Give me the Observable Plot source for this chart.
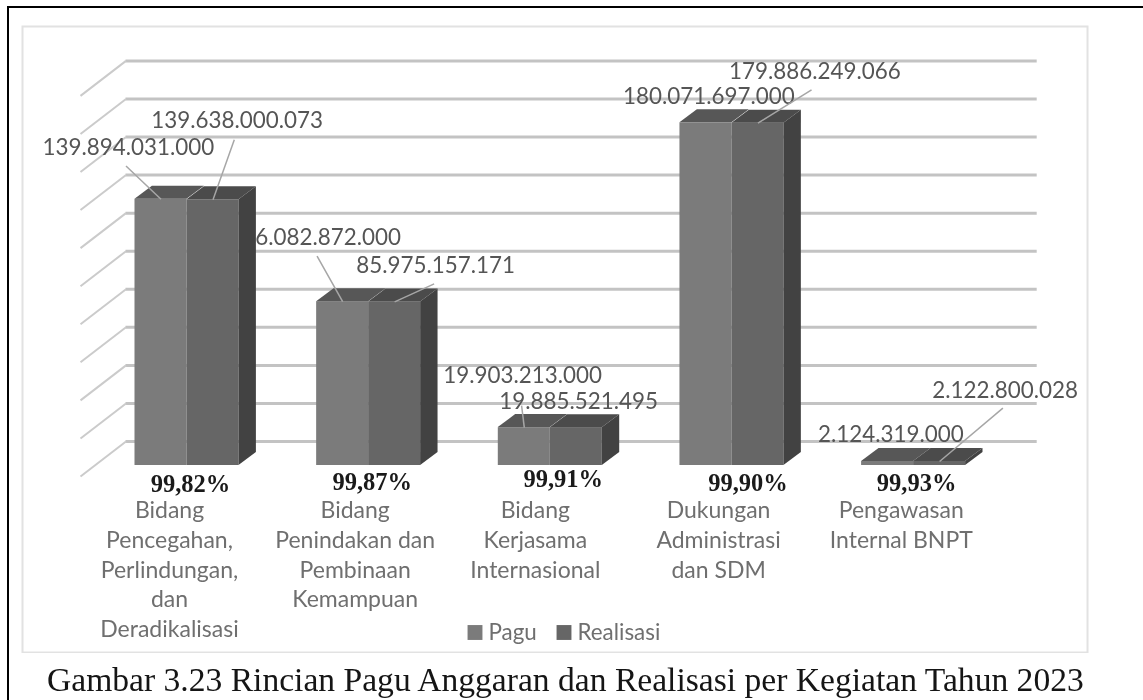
<!DOCTYPE html>
<html>
<head>
<meta charset="utf-8">
<script src="https://cdn.jsdelivr.net/npm/d3@7"></script>
<script src="https://cdn.jsdelivr.net/npm/@observablehq/plot@0.6"></script>
<style>
  html, body { margin: 0; padding: 0; background: #fff; }
  #page { position: relative; width: 1143px; height: 700px; overflow: hidden; box-sizing: border-box;
          border-top: 2px solid #000; border-left: 2px solid #000; margin: 6px 0 0 7px; }
  #wrap { position: absolute; left: -9px; top: -8px; }
  #wrap svg { display: block; filter: blur(0.45px); }
  #caption { font-family: "Liberation Serif", serif; font-size: 33.6px; line-height: 38px; color: #151515; white-space: nowrap;
             position: absolute; left: 38px; top: 653px; filter: blur(0.3px); }
</style>
</head>
<body>
<div id="page"><div id="wrap"></div><div id="caption">Gambar 3.23 Rincian Pagu Anggaran dan Realisasi per Kegiatan Tahun 2023</div></div>
<script>
// ---- data ----
const categories = [
  "Bidang\nPencegahan,\nPerlindungan,\ndan\nDeradikalisasi",
  "Bidang\nPenindakan dan\nPembinaan\nKemampuan",
  "Bidang\nKerjasama\nInternasional",
  "Dukungan\nAdministrasi\ndan SDM",
  "Pengawasan\nInternal BNPT"
];
const pagu      = [139894031000, 86082872000, 19903213000, 180071697000, 2124319000];
const realisasi = [139638000073, 85975157171, 19885521495, 179886249066, 2122800028];
const pct = ["99,82%", "99,87%", "99,91%", "99,90%", "99,93%"];
const gridTicks = [0, 2e10, 4e10, 6e10, 8e10, 1e11, 1.2e11, 1.4e11, 1.6e11, 1.8e11, 2e11];

// ---- layout (pixel nudges from each anchor, scale factors, colours) ----
const PX_SLOT = 181.65, PX_VAL = 1.903e-9;
const pxX = p => p / PX_SLOT;
const pxY = p => -p / PX_VAL;
const halfW = pxX(52), depthX = pxX(17.4), depthY = pxY(-13);
const wallBackY = pxY(-24), wallFrontY = pxY(11);
const wallLeftBack = pxX(-61), wallLeftFront = pxX(-106.5), wallRight = pxX(850.2);
const paguLabelNudge = [[-32.7,-51],[-21,-64],[-1.7,-52],[2.9,-26.3],[3.3,-27]];
const realLabelNudge = [[24.2,-79.3],[41,-35.7],[2.3,-25.5],[56.9,-51],[65.5,-71]];
const paguLeader = [[-35,-33.3],[-25.6,-45.6],[-2.7,-22],null,null];
const realLeader = [[21.3,-60],[39.5,-18],null,[53.6,-33.4],[63.3,-53.3]];
const catNudge = [-17.5,-13.5,-15,-13.4,-12.3];
const pctNudge = [[3.5,19],[3.6,17],[13,14],[16,17.5],[3,17.5]];
const C = {pagu:"#7b7b7b", real:"#666666", side:"#424242", topP:"#575757", topR:"#4b4b4b",
           grid:"#c3c3c3", diag:"#cbcbcb", frame:"#e2e2e2", label:"#555555", cat:"#6f6f6f", leader:"#a6a6a6"};
const sans = "Lato, 'Open Sans', sans-serif";

// ---- derived tables ----
const idx = categories.map((_, i) => i);
const series = [
  {name:"Pagu", vals:pagu, x0:-halfW, x1:0, fill:C.pagu, top:C.topP, anchor:-halfW/2, nudge:paguLabelNudge, leader:paguLeader},
  {name:"Realisasi", vals:realisasi, x0:0, x1:halfW, fill:C.real, top:C.topR, anchor:halfW/2, nudge:realLabelNudge, leader:realLeader}
];
const bars = series.flatMap(s => idx.map(i => ({i, v:s.vals[i], x0:i+s.x0, x1:i+s.x1, fill:s.fill, top:s.top, s})));
const topFaces = bars.flatMap((b, k) => [
  {k, y:b.v, a:b.x0, b:b.x1, fill:b.top},
  {k, y:b.v+depthY, a:b.x0+depthX, b:b.x1+depthX, fill:b.top}
]);
const sideFaces = idx.flatMap(i => [
  {i, x:i+halfW, y1:0, y2:realisasi[i]},
  {i, x:i+halfW+depthX, y1:depthY, y2:realisasi[i]+depthY}
]);
const labels = bars.map(b => ({
  text: d3.format(",")(b.v).replace(/,/g, "."),
  x: b.i + b.s.anchor + pxX(b.s.nudge[b.i][0]),
  y: b.v + pxY(b.s.nudge[b.i][1])
}));
const leaders = bars.filter(b => b.s.leader[b.i]).map(b => ({
  x1: b.i + b.s.anchor + pxX(b.s.leader[b.i][0]),
  y1: b.v + pxY(b.s.leader[b.i][1]),
  x2: b.i + b.s.anchor,
  y2: b.v
}));

const chart = Plot.plot({
  width: 1143, height: 653,
  marginLeft: 22, marginRight: 56, marginTop: 26, marginBottom: 1,
  x: {domain: [pxX(22-186.5), pxX(1087-186.5)], axis: null},
  y: {domain: [-98.27e9, 230.69e9], axis: null},
  style: {fontFamily: sans, background: "transparent"},
  marks: [
    Plot.frame({stroke: C.frame, strokeWidth: 2}),
    Plot.ruleY(gridTicks, {y: d => d + wallBackY, x1: wallLeftBack, x2: wallRight, stroke: C.grid, strokeWidth: 3}),
    Plot.link(gridTicks, {x1: wallLeftFront, y1: d => d + wallFrontY, x2: wallLeftBack, y2: d => d + wallBackY, stroke: C.diag, strokeWidth: 2}),
    Plot.text(labels, {x: "x", y: "y", text: "text", fontSize: 22.4, fill: C.label}),
    Plot.rect(bars, {x1: "x0", x2: "x1", y1: 0, y2: "v", fill: "fill"}),
    Plot.areaX(topFaces, {y: "y", x1: "a", x2: "b", z: "k", fill: "fill"}),
    Plot.areaY(sideFaces, {x: "x", y1: "y1", y2: "y2", z: "i", fill: C.side}),
    Plot.link(leaders, {x1: "x1", y1: "y1", x2: "x2", y2: "y2", stroke: C.leader, strokeWidth: 1.5}),
    Plot.text(idx, {x: i => i + pxX(pctNudge[i][0]), y: i => pxY(pctNudge[i][1]), text: i => pct[i], fontFamily: "'Liberation Serif', serif",
      fontWeight: 700, fontSize: 24.5, fill: "#1a1a1a", lineAnchor: "middle"}),
    Plot.text(idx, {x: i => i + pxX(catNudge[i]), y: 0, text: i => categories[i], lineAnchor: "top", dy: 31,
      fontSize: 23, lineHeight: 1.3, fill: C.cat}),
    Plot.dot(["Pagu"], {frameAnchor: "bottom-left", symbol: "square", r: 8.4, fill: C.pagu, dx: 452.5, dy: -20}),
    Plot.text(["Pagu"], {frameAnchor: "bottom-left", text: d => d, textAnchor: "start", lineAnchor: "middle", dx: 466, dy: -20, fontSize: 22.4, fill: C.cat}),
    Plot.dot(["Realisasi"], {frameAnchor: "bottom-left", symbol: "square", r: 8.4, fill: C.real, dx: 541.5, dy: -20}),
    Plot.text(["Realisasi"], {frameAnchor: "bottom-left", text: d => d, textAnchor: "start", lineAnchor: "middle", dx: 555, dy: -20, fontSize: 22.4, fill: C.cat})
  ]
});
document.getElementById("wrap").appendChild(chart);
</script>
</body>
</html>
